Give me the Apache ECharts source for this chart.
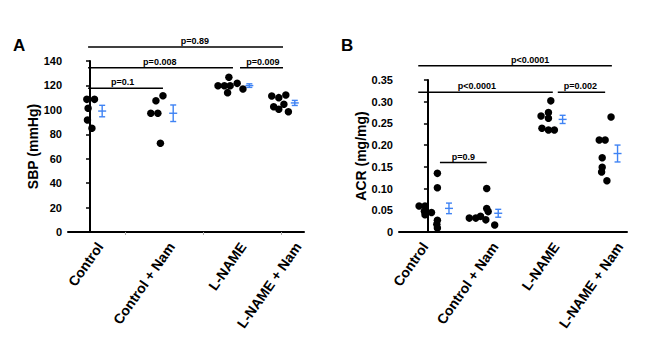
<!DOCTYPE html>
<html>
<head>
<meta charset="utf-8">
<script src="https://cdn.jsdelivr.net/npm/echarts@6/dist/echarts.min.js"></script>
<style>
  html, body { margin: 0; padding: 0; background: #fff; }
  #chart { width: 652px; height: 345px; }
</style>
</head>
<body>
<div id="chart"></div>
<script>
// Group names shared by both panels
const groups = ['Control', 'Control + Nam', 'L-NAME', 'L-NAME + Nam'];

// Panel A: systolic blood pressure (mmHg), one array per group
const sbpControl    = [108.6, 108.6, 101.3, 91.7, 84.9];
const sbpControlNam = [97.2, 97.2, 107.5, 111.6, 72.6];
const sbpLName      = [119.8, 119.8, 126.7, 119.8, 114.1, 121.7, 117.1];
const sbpLNameNam   = [111.3, 110.0, 112.2, 102.6, 100.5, 104.6, 98.5];
// horizontal scatter of the dots inside each column
const sbpJitter = [
  [-0.05, 0.07, -0.03, -0.04, 0.03],
  [-0.05, 0.06, 0.03, 0.14, 0.10],
  [0.00, 0.10, 0.17, 0.19, 0.15, 0.30, 0.39],
  [-0.16, -0.05, 0.06, -0.13, -0.05, 0.03, 0.10]
];
const sbpTicks = [0, 20, 40, 60, 80, 100, 120, 140];

// Panel B: albumin-to-creatinine ratio (mg/mg)
const acrControl    = [0.060, 0.060, 0.048, 0.040, 0.045, 0.135, 0.102, 0.027, 0.018, 0.009];
const acrControlNam = [0.032, 0.032, 0.036, 0.028, 0.100, 0.054, 0.047, 0.016];
const acrLName      = [0.302, 0.267, 0.275, 0.262, 0.239, 0.235, 0.235];
const acrLNameNam   = [0.265, 0.212, 0.212, 0.171, 0.149, 0.138, 0.118];
const acrJitter = [
  [-0.15, -0.05, -0.06, -0.05, 0.06, 0.16, 0.16, 0.16, 0.15, 0.16],
  [-0.30, -0.19, -0.11, -0.02, -0.005, -0.005, 0.02, 0.13],
  [0.08, -0.085, 0.04, 0.04, -0.07, 0.04, 0.14],
  [0.10, -0.10, 0.00, -0.05, -0.05, -0.06, 0.03]
];
const acrTicks = [0, 0.05, 0.10, 0.15, 0.20, 0.25, 0.30, 0.35];

// Pairwise comparisons: [from, to, bar height, text centre, text]
const sbpStats = [
  [-0.03, 3.016, 151.5, 1.64, 'p=0.89'],
  [-0.03, 2.234, 134.5, 1.09, 'p=0.008'],
  [2.344, 3.016, 134.5, 2.70, 'p=0.009'],
  [-0.03, 1.14, 117.6, 0.51, 'p=0.1']
];
const acrStats = [
  [-0.164, 3.114, 0.383, 1.73, 'p<0.0001'],
  [-0.164, 2.114, 0.3216, 0.83, 'p<0.0001'],
  [2.198, 3.0, 0.3216, 2.58, 'p=0.002'],
  [0.203, 0.995, 0.160, 0.60, 'p=0.9']
];

const sbpGroups = [sbpControl, sbpControlNam, sbpLName, sbpLNameNam];
const acrGroups = [acrControl, acrControlNam, acrLName, acrLNameNam];

// Layout of each panel's column axis
const panelA = { xMin: -0.344, xMax: 3.344, labelAt: [0.156, 1.275, 2.39, 3.25], tickAt: [0.547, 1.766, 2.984], errAt: [0.19, 0.30, 0.49, 0.20] };
const panelB = { xMin: -0.49, xMax: 3.37, labelAt: [-0.05, 1.136, 2.17, 3.25], tickAt: [], errAt: [0.356, 0.19, 0.28, 0.21] };

const FONT = 'Liberation Sans, Arial, sans-serif';
const BLUE = '#3f83f4';

function dots(sets, jitter) {
  const out = [];
  sets.forEach((vals, g) => vals.forEach((v, i) => out.push([g + jitter[g][i], v])));
  return out;
}

// mean and standard error of each group
function meanSem(sets, errAt) {
  return sets.map((vals, g) => {
    const n = vals.length;
    const m = vals.reduce((a, b) => a + b, 0) / n;
    const sd = Math.sqrt(vals.reduce((a, b) => a + (b - m) * (b - m), 0) / (n - 1));
    const se = sd / Math.sqrt(n);
    return [g + errAt[g], m, m - se, m + se];
  });
}

function renderErr(params, api) {
  const x = api.value(0);
  const c = api.coord([x, api.value(1)]);
  const lo = api.coord([x, api.value(2)]);
  const hi = api.coord([x, api.value(3)]);
  const st = { stroke: BLUE, lineWidth: 1.4, fill: null };
  return {
    type: 'group',
    children: [
      { type: 'line', shape: { x1: c[0], y1: hi[1], x2: c[0], y2: lo[1] }, style: st },
      { type: 'line', shape: { x1: c[0] - 3, y1: hi[1], x2: c[0] + 3, y2: hi[1] }, style: st },
      { type: 'line', shape: { x1: c[0] - 3, y1: lo[1], x2: c[0] + 3, y2: lo[1] }, style: st },
      { type: 'line', shape: { x1: c[0] - 4, y1: c[1], x2: c[0] + 4, y2: c[1] }, style: st }
    ]
  };
}

function statRenderer(stats) {
  return function (params, api) {
    const s = stats[params.dataIndex];
    const a = api.coord([s[0], s[2]]);
    const b = api.coord([s[1], s[2]]);
    const t = api.coord([s[3], s[2]]);
    return {
      type: 'group',
      children: [
        { type: 'line', shape: { x1: a[0], y1: a[1], x2: b[0], y2: b[1] }, style: { stroke: '#000', lineWidth: 1.5 } },
        { type: 'text', x: t[0], y: a[1] - 1.5, style: { text: s[4], fill: '#000', font: 'bold 9px ' + FONT, textAlign: 'center', textVerticalAlign: 'bottom' } }
      ]
    };
  };
}

function xAxisFor(p, idx) {
  return {
    type: 'value', gridIndex: idx, min: p.xMin, max: p.xMax,
    splitLine: { show: false },
    axisLine: { show: true, onZero: false, lineStyle: { color: '#000', width: 2 } },
    axisTick: { show: p.tickAt.length > 0, customValues: p.tickAt, length: 3, lineStyle: { color: '#aaa', width: 1 } },
    axisLabel: {
      customValues: p.labelAt, rotate: 55, margin: 12, hideOverlap: false,
      color: '#000', fontWeight: 'bold', fontSize: 14, fontFamily: FONT,
      formatter: v => {
        let best = 0;
        p.labelAt.forEach((q, i) => { if (Math.abs(q - v) < Math.abs(p.labelAt[best] - v)) best = i; });
        return groups[best];
      }
    }
  };
}

function yAxisFor(ticks, idx, name, gap, fmt) {
  return {
    type: 'value', gridIndex: idx, min: ticks[0], max: ticks[ticks.length - 1],
    interval: ticks[1] - ticks[0],
    name: name, nameLocation: 'middle', nameGap: gap,
    nameTextStyle: { color: '#000', fontWeight: 'bold', fontSize: 14, fontFamily: FONT },
    splitLine: { show: false },
    axisLine: { show: true, lineStyle: { color: '#000', width: 2 } },
    axisTick: { show: true, length: 4, lineStyle: { color: '#000', width: 1.5 } },
    axisLabel: { color: '#000', fontWeight: 'bold', fontSize: 11, fontFamily: FONT, margin: 6, formatter: fmt }
  };
}

const dotStyle = { color: '#000', opacity: 1 };

const chart = echarts.init(document.getElementById('chart'), null, { renderer: 'svg' });
chart.setOption({
  animation: false,
  backgroundColor: '#fff',
  title: [
    { text: 'A', left: 13, top: 37, padding: 0, textStyle: { fontSize: 17, fontWeight: 'bold', color: '#000', fontFamily: FONT } },
    { text: 'B', left: 341, top: 37, padding: 0, textStyle: { fontSize: 17, fontWeight: 'bold', color: '#000', fontFamily: FONT } }
  ],
  grid: [
    { left: 68, right: 348, top: 61, bottom: 113 },
    { left: 399, right: 25, top: 80, bottom: 113 }
  ],
  xAxis: [xAxisFor(panelA, 0), xAxisFor(panelB, 1)],
  yAxis: [
    yAxisFor(sbpTicks, 0, 'SBP (mmHg)', 20, v => String(v)),
    yAxisFor(acrTicks, 1, 'ACR (mg/mg)', 30, v => (v === 0 ? '0' : v.toFixed(2)))
  ],
  series: [
    { type: 'scatter', xAxisIndex: 0, yAxisIndex: 0, symbolSize: 7.5, itemStyle: dotStyle, data: dots(sbpGroups, sbpJitter) },
    { type: 'custom', xAxisIndex: 0, yAxisIndex: 0, renderItem: renderErr, data: meanSem(sbpGroups, panelA.errAt) },
    { type: 'custom', xAxisIndex: 0, yAxisIndex: 0, clip: false, renderItem: statRenderer(sbpStats), encode: { x: [0, 1], y: 2 }, data: sbpStats.map(s => [s[0], s[1], s[2]]) },
    { type: 'scatter', xAxisIndex: 1, yAxisIndex: 1, symbolSize: 7.5, itemStyle: dotStyle, data: dots(acrGroups, acrJitter) },
    { type: 'custom', xAxisIndex: 1, yAxisIndex: 1, renderItem: renderErr, data: meanSem(acrGroups, panelB.errAt) },
    { type: 'custom', xAxisIndex: 1, yAxisIndex: 1, clip: false, renderItem: statRenderer(acrStats), encode: { x: [0, 1], y: 2 }, data: acrStats.map(s => [s[0], s[1], s[2]]) }
  ]
});
</script>
</body>
</html>
